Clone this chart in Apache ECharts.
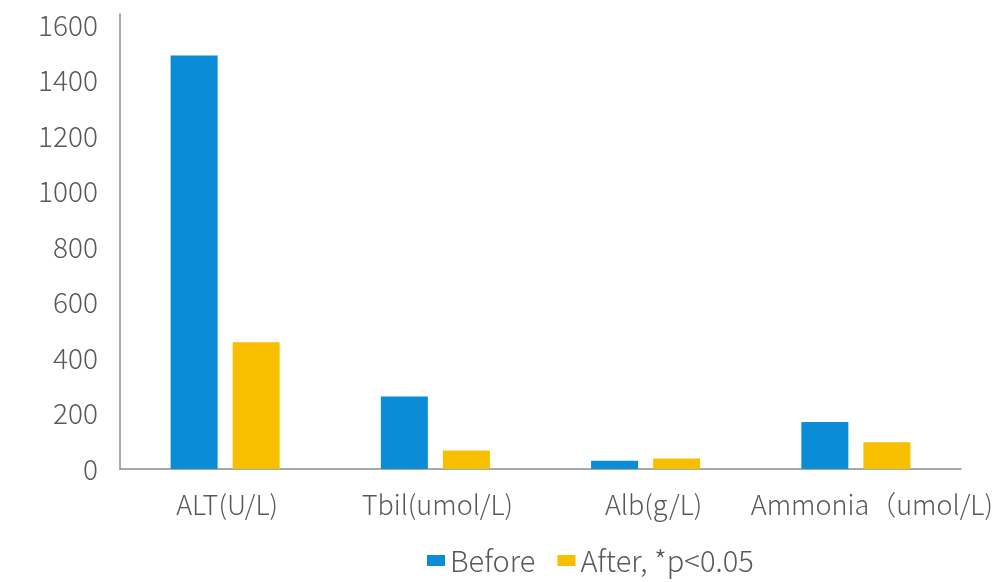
<!DOCTYPE html>
<html>
<head>
<meta charset="utf-8">
<script src="https://cdn.jsdelivr.net/npm/echarts@6/dist/echarts.min.js"></script>
<style>html,body{margin:0;padding:0;background:#fff}#c{width:1008px;height:582px}</style>
</head>
<body>
<div id="c"></div>
<script>
const categories = ['ALT(U/L)', 'Tbil(umol/L)', 'Alb(g/L)', 'Ammonia（umol/L)'];
const seriesNames = ['Before', 'After, *p<0.05'];
const beforeValues = [1490, 261, 30, 169];
const afterValues = [457, 67, 38, 96];
const yTicks = [0, 200, 400, 600, 800, 1000, 1200, 1400, 1600];

const FONT = '"Noto Sans CJK SC", "Noto Sans", sans-serif';
const labelShift = [4, 4, 16, 32];
const chart = echarts.init(document.getElementById('c'), null, {renderer: 'canvas'});
chart.setOption({
  animation: false,
  backgroundColor: '#ffffff',
  textStyle: {fontFamily: FONT},
  legend: {
    bottom: 2,
    left: 422,
    itemWidth: 18,
    itemHeight: 11,
    itemGap: 22,
    icon: 'rect',
    textStyle: {fontSize: 29, color: '#595959', fontFamily: FONT, fontWeight: 300},
    data: seriesNames
  },
  grid: {left: 120, right: 47, top: 14, bottom: 113, containLabel: false},
  xAxis: {
    type: 'category',
    data: categories.map(function (c, i) {
      return {value: c, textStyle: {padding: [0, 0, 0, labelShift[i]]}};
    }),
    axisLine: {lineStyle: {color: '#8c8c8c', width: 1.5}},
    axisTick: {show: false},
    axisLabel: {fontSize: 27, color: '#595959', margin: 22, fontFamily: FONT, fontWeight: 300, interval: 0}
  },
  yAxis: {
    type: 'value',
    min: 0,
    max: 1640,
    interval: 200,
    axisLine: {show: true, lineStyle: {color: '#8c8c8c', width: 1.5}},
    axisTick: {show: false},
    splitLine: {show: false},
    axisLabel: {
      fontSize: 28, color: '#595959', margin: 22, fontFamily: FONT, fontWeight: 300, showMaxLabel: false,
      formatter: function (v) { return yTicks.indexOf(v) >= 0 ? String(v) : ''; }
    }
  },
  series: [
    {name: seriesNames[0], type: 'bar', data: beforeValues, barWidth: 47, barGap: '32%',
     itemStyle: {color: '#0a8dd6'}},
    {name: seriesNames[1], type: 'bar', data: afterValues, barWidth: 47,
     itemStyle: {color: '#f8be00'}}
  ]
});
</script>
</body>
</html>
